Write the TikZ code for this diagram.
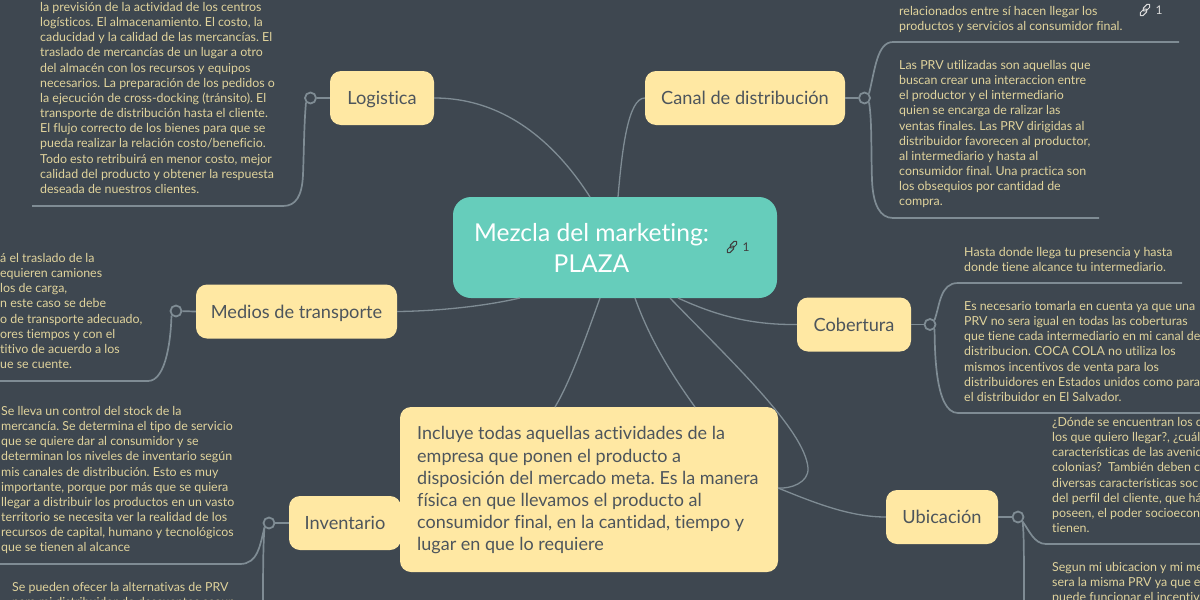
\documentclass[tikz,border=0pt]{standalone}
\usepackage{fontspec}
\setmainfont{Lato}[Ligatures=CommonOff]
\definecolor{slatebg}{HTML}{3E4750}
\definecolor{wirecol}{HTML}{7F8C94}
\definecolor{sandcol}{HTML}{FFE8A3}
\definecolor{tealcol}{HTML}{66CDBB}
\definecolor{inkcol}{HTML}{4D555C}
\definecolor{notecol}{HTML}{E0D39C}
\tikzset{
  topic/.style={draw=none,fill=sandcol,rounded corners=11pt,text=inkcol,font=\fontsize{18.2}{22}\selectfont,inner sep=0pt,text height=17pt,text depth=4pt},
  note/.style={text=notecol,inner sep=0pt,anchor=north west,align=left,font=\fontsize{12.4}{15.17}\selectfont\frenchspacing},
  wire/.style={draw=wirecol,line width=1.7pt},
  spine/.style={draw=wirecol,line width=1.3pt},
  joint/.style={circle,draw=wirecol,line width=1.8pt,fill=slatebg,inner sep=0pt,minimum size=11pt}
}
\newcommand{\chainicon}[2]{%
  \draw[#2,line width=1pt,rotate around={45:(#1)},rounded corners=1.8pt] ([xshift=-7pt,yshift=-2.6pt]#1) rectangle ([xshift=1.5pt,yshift=1.4pt]#1);
  \draw[#2,line width=1pt,rotate around={45:(#1)},rounded corners=1.8pt] ([xshift=-1.5pt,yshift=-1.4pt]#1) rectangle ([xshift=7pt,yshift=2.6pt]#1);
}
\begin{document}
\begin{tikzpicture}[x=1pt,y=-1pt]
\useasboundingbox (0,0) rectangle (1200,600);
\fill[slatebg] (0,0) rectangle (1200,600);
% boxes
\node[fill=tealcol,rounded corners=18pt,minimum width=324pt,minimum height=101pt,inner sep=0pt] (plaza) at (615,247.5) {};
\node[text=white,align=center,font=\fontsize{24.6}{31}\selectfont,inner sep=0pt] (plazatext) at (591.5,248) {Mezcla del marketing:\\PLAZA};
\node[topic,minimum width=104pt,minimum height=54pt] (logistica) at (382,98) {Logistica};
\node[topic,minimum width=200pt,minimum height=54pt] (canal) at (745,98) {Canal de distribución};
\node[topic,minimum width=201pt,minimum height=54pt] (medios) at (296.5,311.5) {Medios de transporte};
\node[topic,minimum width=114pt,minimum height=54pt] (cobertura) at (854,324.5) {Cobertura};
\node[topic,minimum width=112pt,minimum height=54pt] (inventario) at (345,523) {Inventario};
\node[topic,minimum width=112pt,minimum height=54pt] (ubicacion) at (942,517) {Ubicación};
\node[fill=sandcol,rounded corners=11pt,minimum width=378pt,minimum height=165pt,inner sep=0pt] (incluye) at (589,489.5) {};
\node[text=inkcol,inner sep=0pt,anchor=north west,align=left,font=\fontsize{18}{22.2}\selectfont\frenchspacing] (incluyetext) at (417,426.5) {Incluye todas aquellas actividades de la\\empresa que ponen el producto a\\disposición del mercado meta. Es la manera\\física en que llevamos el producto al\\consumidor final, en la cantidad, tiempo y\\lugar en que lo requiere};
% notes
\node[note] (notelog) at (40,2) {la previsión de la actividad de los centros\\logísticos. El almacenamiento. El costo, la\\caducidad y la calidad de las mercancías. El\\traslado de mercancías de un lugar a otro\\del almacén con los recursos y equipos\\necesarios. La preparación de los pedidos o\\la ejecución de cross-docking (tránsito). El\\transporte de distribución hasta el cliente.\\El flujo correcto de los bienes para que se\\pueda realizar la relación costo/beneficio.\\Todo esto retribuirá en menor costo, mejor\\calidad del producto y obtener la respuesta\\deseada de nuestros clientes.};
\node[note] (notemed) at (0,253) {á el traslado de la\\equieren camiones\\los de carga,\\n este caso se debe\\o de transporte adecuado,\\ores tiempos y con el\\titivo de acuerdo a los\\ue se cuente.};
\node[note] (noteinv) at (1,406) {Se lleva un control del stock de la\\mercancía. Se determina el tipo de servicio\\que se quiere dar al consumidor y se\\determinan los niveles de inventario según\\mis canales de distribución. Esto es muy\\importante, porque por más que se quiera\\llegar a distribuir los productos en un vasto\\territorio se necesita ver la realidad de los\\recursos de capital, humano y tecnológicos\\que se tienen al alcance};
\node[note] (noteprv) at (12,582) {Se pueden ofecer la alternativas de PRV\\para mi distribuidor de descuentos segun};
\node[note] (notecanala) at (899,6) {relacionados entre sí hacen llegar los\\productos y servicios al consumidor final.};
\node[note] (notecanalb) at (899,60) {Las PRV utilizadas son aquellas que\\buscan crear una interaccion entre\\el productor y el intermediario\\quien se encarga de ralizar las\\ventas finales. Las PRV dirigidas al\\distribuidor favorecen al productor,\\al intermediario y hasta al\\consumidor final. Una practica son\\los obsequios por cantidad de\\compra.};
\node[note] (notecoba) at (964,247) {Hasta donde llega tu presencia y hasta\\donde tiene alcance tu intermediario.};
\node[note] (notecobb) at (964,301) {Es necesario tomarla en cuenta ya que una\\PRV no sera igual en todas las coberturas\\que tiene cada intermediario en mi canal de\\distribucion. COCA COLA no utiliza los\\mismos incentivos de venta para los\\distribuidores en Estados unidos como para\\el distribuidor en El Salvador.};
\node[note] (noteuba) at (1052,417) {¿Dónde se encuentran los c\\los que quiero llegar?, ¿cuál\\características de las avenic\\colonias?~ También deben c\\diversas características soc\\del perfil del cliente, que há\\poseen, el poder socioecon\\tienen.};
\node[note] (noteubb) at (1052,562) {Segun mi ubicacion y mi me\\sera la misma PRV ya que e\\puede funcionar el incentiv};
% joints
\node[joint] (jlog) at (310.5,98) {};
\node[joint] (jcanal) at (864.5,98) {};
\node[joint] (jmed) at (176,311) {};
\node[joint] (jcob) at (930,324.5) {};
\node[joint] (jinv) at (269,523) {};
\node[joint] (jub) at (1018,517) {};
% free ends
\coordinate (endloga) at (32,206);
\coordinate (endmed) at (0,381);
\coordinate (endinv) at (0,564);
\coordinate (endprv) at (263,600);
\coordinate (endcana) at (1179,42);
\coordinate (endcanb) at (1099,218);
\coordinate (endcoba) at (1182,283);
\coordinate (endcobb) at (1200,413);
\coordinate (enduba) at (1200,544);
\coordinate (endubb) at (1024,600);
% spine
\draw[spine] (logistica.east) .. controls (510,98) and (560,150) .. (590,197);
\draw[spine] (canal.west) .. controls (628,98) and (622,150) .. (618,197);
\draw[spine] (medios.east) .. controls (440,311) and (485,306) .. (520,298);
\draw[spine] (cobertura.west) .. controls (750,325) and (715,315) .. (678,298);
\draw[spine] (600,298) .. controls (585,340) and (570,382) .. (555,407);
\draw[spine] (635,298) .. controls (650,340) and (672,375) .. (695,407);
\draw[spine] (670,298) .. controls (730,360) and (805,430) .. (808,468) .. controls (809,483) and (790,489) .. (778,488);
\draw[spine] (778,488) .. controls (815,503) and (850,517) .. (ubicacion.west);
% branches
\draw[wire] (logistica.west) -- (jlog);
\draw[wire] (canal.east) -- (jcanal);
\draw[wire] (medios.west) -- (jmed);
\draw[wire] (cobertura.east) -- (jcob);
\draw[wire] (inventario.west) -- (jinv);
\draw[wire] (ubicacion.east) -- (jub);
\draw[wire] (jlog.south west) .. controls (304,125) and (304,150) .. (303,175) .. controls (302,196) and (296,206) .. (283,206) -- (endloga);
\draw[wire] (jcanal.north east) .. controls (875,70) and (877,42) .. (893,42) -- (endcana);
\draw[wire] (jcanal.south east) .. controls (872,120) and (871,150) .. (872,180) .. controls (873,205) and (880,218) .. (893,218) -- (endcanb);
\draw[wire] (jmed.south west) .. controls (171,335) and (167,381) .. (148,381) -- (endmed);
\draw[wire] (jcob.north east) .. controls (940,305) and (940,283) .. (958,283) -- (endcoba);
\draw[wire] (jcob.south east) .. controls (935,345) and (934,413) .. (958,413) -- (endcobb);
\draw[wire] (jinv.south west) .. controls (260,545) and (258,564) .. (240,564) -- (endinv);
\draw[wire] (jinv.south west) .. controls (264,535) and (263,545) .. (endprv);
\draw[wire] (jub.south east) .. controls (1029,530) and (1034,544) .. (1046,544) -- (enduba);
\draw[wire] (jub.south east) .. controls (1024,530) and (1024,560) .. (endubb);
% links
\chainicon{732,247}{black!75}
\node[text=black!75,inner sep=0pt,font=\fontsize{12}{14}\selectfont] (plazacount) at (746,247) {1};
\chainicon{1145,10}{white!85!black}
\node[text=white!85!black,inner sep=0pt,font=\fontsize{12}{14}\selectfont] (canalcount) at (1159,10) {1};
\end{tikzpicture}
\end{document}
